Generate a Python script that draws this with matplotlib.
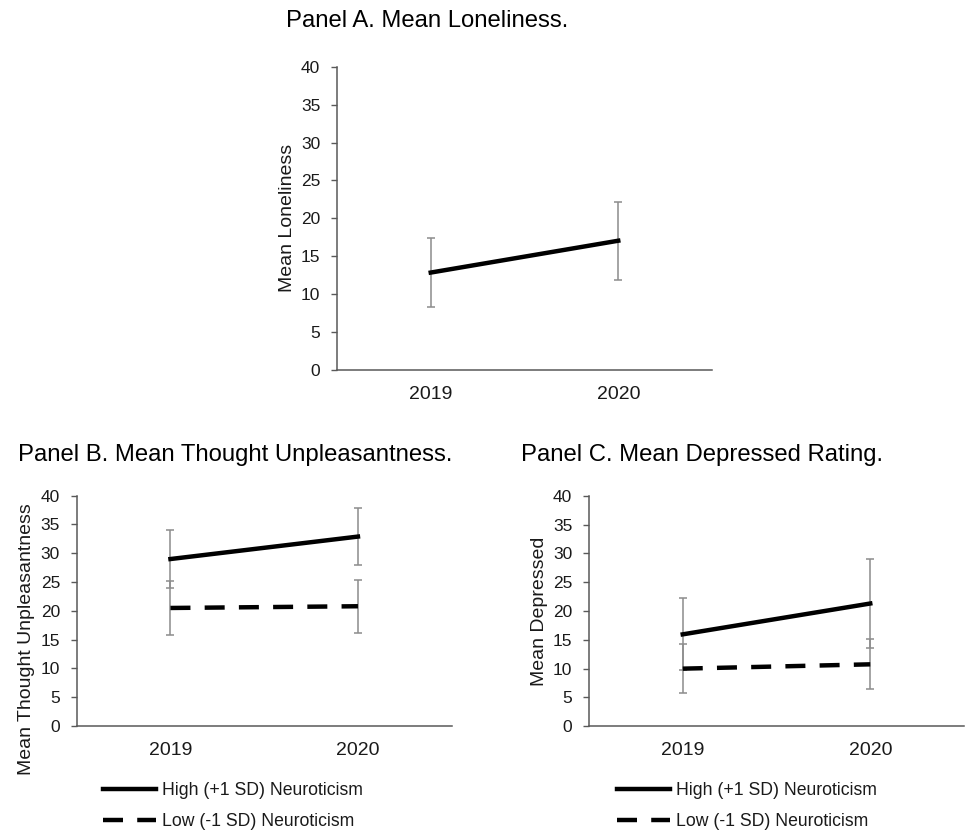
import matplotlib

matplotlib.use("Agg")
import matplotlib.pyplot as plt
from matplotlib.lines import Line2D

plt.rcParams["font.family"] = ["Liberation Sans", "DejaVu Sans"]

years = ["2019", "2020"]

# Panel A: loneliness (single series)
lonely_mean = [12.85, 17.05]
lonely_err = [4.6, 5.15]

# Panel B: thought unpleasantness
unpl_high = [29.0, 32.9]
unpl_high_err = [5.0, 4.95]
unpl_low = [20.5, 20.8]
unpl_low_err = [4.7, 4.6]

# Panel C: depressed rating
dep_high = [15.95, 21.3]
dep_high_err = [6.25, 7.8]
dep_low = [10.0, 10.75]
dep_low_err = [4.3, 4.35]

high_label = "High (+1 SD) Neuroticism"
low_label = "Low (-1 SD) Neuroticism"

W, H = 966, 830
AXIS_COL = "#595959"
ERR_COL = "#8c8c8c"
TXT_COL = "#1a1a1a"
DASH = (0, (4.5, 3.2))


def px_rect(left, top, right, bottom):
    return [left / W, 1 - bottom / H, (right - left) / W, (bottom - top) / H]


def style_axis(ax, ylabel, label_y=0.5):
    ax.set_xlim(-0.5, 1.5)
    ax.set_ylim(0, 40)
    ax.set_yticks(range(0, 41, 5))
    ax.set_xticks(range(len(years)))
    ax.set_xticklabels(years)
    for side in ("top", "right"):
        ax.spines[side].set_visible(False)
    for side in ("left", "bottom"):
        ax.spines[side].set_color(AXIS_COL)
        ax.spines[side].set_linewidth(1.1)
    ax.tick_params(axis="y", direction="out", length=4.5, width=1.0, color=AXIS_COL,
                   pad=7.5, labelsize=12.5, labelcolor=TXT_COL)
    ax.tick_params(axis="x", length=0, pad=11.5, labelsize=14, labelcolor=TXT_COL)
    ax.set_ylabel(ylabel, fontsize=14, color=TXT_COL)
    ax.yaxis.set_label_coords(-0.11, label_y)


def draw_series(ax, means, errs, ls):
    x = range(len(years))
    ax.errorbar(x, means, yerr=errs, fmt="none", ecolor=ERR_COL, elinewidth=1.1,
                capsize=3.2, capthick=1.1, zorder=2)
    ax.plot(x, means, color="black", linewidth=3.2, linestyle=ls, zorder=3)


fig = plt.figure(figsize=(W / 100, H / 100), dpi=100)

# Panel A
ax_a = fig.add_axes(px_rect(337, 66.7, 712, 370))
draw_series(ax_a, lonely_mean, lonely_err, "-")
style_axis(ax_a, "Mean Loneliness")
fig.text(286 / W, 1 - 21 / H, "Panel A. Mean Loneliness.", fontsize=17.2,
         color="black", ha="left", va="center")

# Panel B
ax_b = fig.add_axes(px_rect(76.7, 495.7, 451.7, 726))
draw_series(ax_b, unpl_high, unpl_high_err, "-")
draw_series(ax_b, unpl_low, unpl_low_err, DASH)
style_axis(ax_b, "Mean Thought Unpleasantness", label_y=0.376)
fig.text(18 / W, 1 - 455 / H, "Panel B. Mean Thought Unpleasantness.", fontsize=17.2,
         color="black", ha="left", va="center")

# Panel C
ax_c = fig.add_axes(px_rect(589, 495.7, 964, 726.3))
draw_series(ax_c, dep_high, dep_high_err, "-")
draw_series(ax_c, dep_low, dep_low_err, DASH)
style_axis(ax_c, "Mean Depressed", label_y=0.497)
fig.text(521 / W, 1 - 455 / H, "Panel C. Mean Depressed Rating.", fontsize=17.2,
         color="black", ha="left", va="center")

handles = [
    Line2D([], [], color="black", linewidth=3.2, linestyle="-"),
    Line2D([], [], color="black", linewidth=3.2, linestyle=DASH),
]
for x0 in (103, 617):
    fig.legend(handles, [high_label, low_label], loc="upper left",
               bbox_to_anchor=(x0 / W, 1 - 782 / H), frameon=False, fontsize=12.7,
               handlelength=3.0, handletextpad=0.35, labelspacing=0.8,
               borderpad=0, borderaxespad=0, labelcolor=TXT_COL)

fig.savefig("out.png", dpi=100)
